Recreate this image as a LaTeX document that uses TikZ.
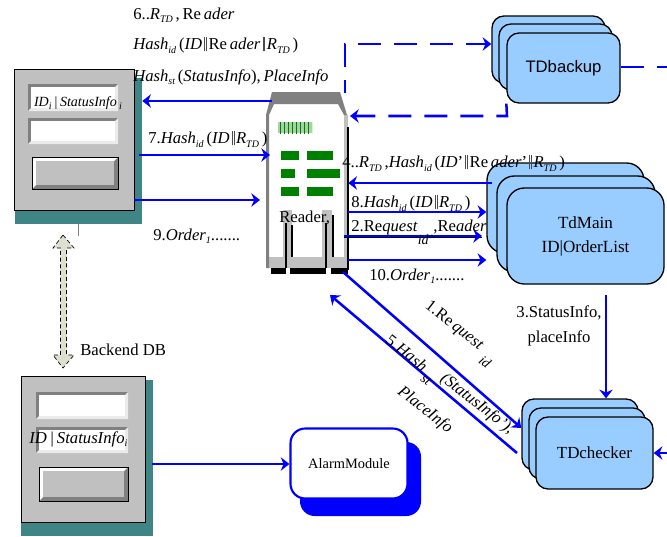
\documentclass[tikz,border=0pt]{standalone}
\usepackage{fontspec}
\setmainfont{Liberation Serif}
\newfontfamily\arialfont{Liberation Sans}
\usetikzlibrary{arrows.meta,calc,shapes.arrows,patterns}
\definecolor{boxblue}{HTML}{99CCFF}
\definecolor{wallgray}{HTML}{808080}
\definecolor{lightgray2}{HTML}{C0C0C0}
\definecolor{tealshadow}{HTML}{3F8585}
\definecolor{readergreen}{HTML}{008000}
\definecolor{arrowpale}{HTML}{DDE0CC}
\definecolor{linkblue}{HTML}{0000FF}
\newcommand{\subs}[1]{\raisebox{-0.45ex}{\fontsize{7.5}{7.5}\selectfont\itshape #1}}
\newcommand{\subsdrop}[2]{\raisebox{#1}{\fontsize{10.5}{10.5}\selectfont\itshape #2}}
\newcommand{\vv}{\kern1.6pt\textcolor{black!70}{\rule[-0.2ex]{0.3pt}{1.9ex}\kern1pt\rule[-0.2ex]{0.3pt}{1.9ex}}\kern1.6pt}
\tikzset{
  lab/.style={inner sep=0pt,font=\fontsize{12.5}{14}\selectfont,anchor=west},
  conn/.style={draw=linkblue,line width=1.9pt,-{Stealth[length=6.5pt,width=10pt]}},
  dashconn/.style={conn,dash pattern=on 17.25pt off 9.75pt},
  stackbox/.style={draw=black,line width=1pt,fill=boxblue,rounded corners=9pt,inner sep=0pt},
  shadowbox/.style={fill=tealshadow,inner sep=0pt},
  panel/.style={draw=black,line width=0.7pt,fill=lightgray2,inner sep=0pt},
  ghost/.style={inner sep=0pt,draw=none},
  bar/.style={fill=readergreen}
}
% inset field: x1,y1,x2,y2
\newcommand{\fieldbox}[4]{%
  \fill[wallgray] (#1,#2) rectangle (#3,#4);
  \fill[black!8] (#1,#4) -- (#3,#4) -- (#3,#2) -- (#3-3,#2+3) -- (#3-3,#4-3) -- (#1+3,#4-3) -- cycle;
  \fill[white] (#1+3,#2+3) rectangle (#3-3,#4-3);
}
\newcommand{\buttonbox}[4]{%
  \fill[wallgray] (#1,#2) rectangle (#3,#4);
  \fill[white] (#1,#4) -- (#1,#2) -- (#3,#2) -- (#3-4,#2+4) -- (#1+4,#2+4) -- (#1+4,#4-4) -- cycle;
  \fill[lightgray2] (#1+4,#2+4) rectangle (#3-4,#4-4);
  \draw[black,line width=0.7pt] (#1,#2) rectangle (#3,#4);
}
\begin{document}
\begin{tikzpicture}[x=0.75pt,y=-0.75pt]
\useasboundingbox (0,0) rectangle (667,536);
\fill[white] (0,0) rectangle (667,536);

% ---------- tablet 1
\node[shadowbox,minimum width=127*0.75pt,minimum height=146*0.75pt] (tabAshadow) at (78.5,151) {};
\node[panel,minimum width=120*0.75pt,minimum height=141*0.75pt] (tabA) at (74,139.5) {};
\fieldbox{28}{84}{118}{111}
\fieldbox{28}{118}{118}{144}
\buttonbox{32}{157}{118}{189}
\node[font=\fontsize{10.5}{12}\selectfont\itshape,inner sep=0pt] (tabAtext) at (78,103.5) {ID\subs{i}\,|\,StatusInfo\,\subs{i}};
\coordinate (tabAtick) at (78,236);
\draw[wallgray,line width=0.7pt] (tabAshadow.south -| tabAtick) -- (tabAtick);

% ---------- tablet 2
\node[shadowbox,minimum width=132*0.75pt,minimum height=156*0.75pt] (tabBshadow) at (87,458) {};
\node[panel,minimum width=124*0.75pt,minimum height=146*0.75pt] (tabB) at (83,449) {};
\fieldbox{36}{392}{128}{419}
\fieldbox{36}{427}{128}{453}
\buttonbox{39}{467}{128}{501}
\node[lab,font=\fontsize{12.5}{14}\selectfont\itshape] (tabBtext) at (29,439) {ID\,|\,StatusInfo\subs{i}};

% ---------- double arrow
\draw[black,line width=0.5pt,densely dashed,fill=arrowpale]
  (63,235) -- (74,248) -- (66.5,248) -- (66.5,355) -- (74,355) -- (63,368)
  -- (53,355) -- (60.5,355) -- (60.5,248) -- (53,248) -- cycle;
\node[lab] (backend) at (80,350) {Backend DB};

% ---------- reader
\node[ghost,minimum width=82*0.75pt,minimum height=176*0.75pt] (reader) at (307,180) {};
\fill[lightgray2] (344,115) rectangle (348,257);
\fill[lightgray2] (266,257) rectangle (348,268);
\fill[lightgray2] (283,210) rectangle (292,257);
\fill[lightgray2] (322,210) rectangle (332,257);
\fill[wallgray] (266,268) -- (266,115) -- (272,92) -- (340,92) -- (347,115) -- (344,115) -- (338,104) -- (274,104) -- (269,115) -- (269,268) -- cycle;
\fill[black] (271,268) rectangle (286,274);
\fill[black] (290,268) rectangle (326,274);
\fill[black] (331,268) rectangle (348,274);
\draw[black,line width=1pt] (348,127) -- (348,270);
\draw[black,line width=2pt] (286,223) -- (286,268);
\draw[black,line width=2pt] (326,223) -- (326,268);
\draw[black,line width=0.8pt] (292,225) -- (292,257);
\draw[black,line width=0.8pt] (333,215) -- (333,257);
\fill[pattern=vertical lines,pattern color=readergreen] (278,122) rectangle (312,133);
\fill[readergreen,opacity=.35] (278,122) rectangle (312,133);
\fill[bar] (281,151) rectangle (299,160);
\fill[bar] (307,151) rectangle (333,160);
\fill[bar] (281,169) rectangle (295,178);
\fill[bar] (307,169) rectangle (340,178);
\fill[bar] (281,187) rectangle (299,196);
\fill[bar] (307,187) rectangle (333,196);
\node[lab] (readerlab) at (279,218) {Reader,};

% ---------- stacks
\node[stackbox,minimum width=113*0.75pt,minimum height=67*0.75pt] (bakC) at (548.5,49.5) {};
\node[stackbox,minimum width=113*0.75pt,minimum height=66*0.75pt] (bakB) at (555.5,57) {};
\node[stackbox,minimum width=113*0.75pt,minimum height=70*0.75pt,font=\arialfont\fontsize{12.5}{14}\selectfont] (bakA) at (563.5,68) {TDbackup};

\node[stackbox,rounded corners=13pt,minimum width=157*0.75pt,minimum height=90*0.75pt] (mainC) at (565.5,208) {};
\node[stackbox,rounded corners=13pt,minimum width=158*0.75pt,minimum height=96*0.75pt] (mainB) at (576,224) {};
\node[stackbox,rounded corners=13pt,minimum width=157*0.75pt,minimum height=96*0.75pt,align=center,font=\fontsize{12.8}{18}\selectfont] (mainA) at (585.5,236) {TdMain\\ID|OrderList};

\node[stackbox,minimum width=116*0.75pt,minimum height=71*0.75pt] (chkC) at (580,434.5) {};
\node[stackbox,minimum width=116*0.75pt,minimum height=71*0.75pt] (chkB) at (587,443.5) {};
\node[stackbox,minimum width=117*0.75pt,minimum height=72*0.75pt,font=\fontsize{12.7}{14}\selectfont] (chkA) at (594.5,453) {TDchecker};

\node[fill=linkblue,rounded corners=11pt,minimum width=121*0.75pt,minimum height=74*0.75pt,inner sep=0pt] (alarmS) at (360.5,479) {};
\node[draw=linkblue,line width=1.6pt,fill=white,rounded corners=11pt,minimum width=117*0.75pt,minimum height=70*0.75pt,inner sep=0pt,font=\fontsize{10.8}{12}\selectfont] (alarm) at (349,463.5) {AlarmModule};

% ---------- connectors
\coordinate (a6s) at (272,101);
\draw[conn] (a6s) -- (tabAshadow.east |- a6s);
\coordinate (a7s) at (139,155);
\coordinate (a7e) at (270,155);
\draw[conn] (a7s) -- (a7e);
\coordinate (a9e) at (260,200);
\draw[conn] (tabA.east |- a9e) -- (a9e);
\coordinate (a4s) at (492,183);
\draw[conn] (a4s) -- (reader.east |- a4s);
\coordinate (a8y) at (0,212);
\draw[conn] (reader.east |- a8y) -- (mainC.west |- a8y);
\coordinate (a2s) at (344,236);
\coordinate (a2e) at (482,236);
\draw[black,line width=0.6pt] ($(a2s)+(0,1.5)$) -- ($(a2e)+(0,1.5)$);
\draw[conn] (a2s) -- (a2e);
\coordinate (a10y) at (0,260);
\draw[conn] (reader.east |- a10y) -- (mainC.west |- a10y);

\coordinate (d1s) at (345,44);
\coordinate (d1c) at (345,93);
\draw[dashconn,dash phase=7.5pt] (d1c) -- (d1s) -- (bakC.west |- d1s);
\coordinate (d2c) at (507,116);
\coordinate (d2e) at (350,116);
\draw[dashconn] (bakA.south west) -- (d2c) -- (d2e);
\coordinate (d3e) at (667,67);
\draw[draw=linkblue,line width=1.9pt,dash pattern=on 17.25pt off 9.75pt] (bakA.east |- d3e) -- (d3e);

\coordinate (e1s) at (343,272);
\coordinate (e1y) at (0,428);
\draw[conn] (e1s) -- (chkC.west |- e1y);
\coordinate (e5s) at (517,453);
\coordinate (e5e) at (330,295);
\draw[conn] (e5s) -- (e5e);
\coordinate (e3s) at (606,295);
\draw[conn] (e3s) -- (e3s |- chkC.north);
\coordinate (e6s) at (667,453);
\draw[conn] (e6s) -- (chkA.east);
\coordinate (e7s) at (152,464);
\draw[conn] (e7s) -- (alarm.west |- e7s);

% ---------- labels
\node[lab] (t6a) at (133,15) {6..\textit{R}\subs{TD}\,,\,Re\,\textit{ader}};
\node[lab] (t6b) at (133,45) {\textit{Hash}\subs{id}\,(\textit{ID}\vv Re\,\textit{ader}\vv\textit{R}\subs{TD}\,)};
\node[lab] (t6c) at (133,77) {\textit{Hash}\subs{st}\,(\textit{StatusInfo}),\,\textit{PlaceInfo}};
\node[lab] (t7) at (148,139) {7.\textit{Hash}\subs{id}\,(\textit{ID}\vv\textit{R}\subs{TD}\,)};
\node[lab] (t9) at (153,236) {9.\textit{Order}\subs{1}.......};
\node[lab] (t4) at (342,163) {4..\textit{R}\subs{TD}\,,\textit{Hash}\subs{id}\,(\textit{ID}'\vv Re\,\textit{ader}'\vv\textit{R}\subs{TD}\,)};
\node[lab] (t8) at (351,203) {8.\textit{Hash}\subs{id}\,(\textit{ID}\vv\textit{R}\subs{TD}\,)};
\node[lab] (t2) at (351,232) {2.Re\textit{quest}\subsdrop{-10pt}{id'},Re\textit{ader}};
\node[lab] (t10) at (369,276) {10.\textit{Order}\subs{1}.......};
\node[inner sep=0pt,align=center,font=\fontsize{12.5}{18.5}\selectfont] (t3) at (559,326) {3.StatusInfo,\\placeInfo};
\node[inner sep=0pt,rotate=-38,font=\fontsize{12.5}{14}\selectfont] (t1) at (454,326) {1.Re\,\textit{quest}};
\node[inner sep=0pt,rotate=-38,font=\fontsize{10.5}{12}\selectfont\itshape] (t1b) at (485,362) {id};
\node[inner sep=0pt,rotate=-38,font=\fontsize{12.5}{14}\selectfont] (t5a) at (407,353) {5.\textit{Hash}};
\node[inner sep=0pt,rotate=-38,font=\fontsize{10.5}{12}\selectfont\itshape] (t5s) at (426,380) {st};
\node[inner sep=0pt,rotate=-38,font=\fontsize{12.5}{14}\selectfont\itshape] (t5b) at (477,404) {(StatusInfo'),};
\node[inner sep=0pt,rotate=-38,font=\fontsize{12.5}{14}\selectfont\itshape] (t5c) at (425,410) {PlaceInfo};
\end{tikzpicture}
\end{document}
